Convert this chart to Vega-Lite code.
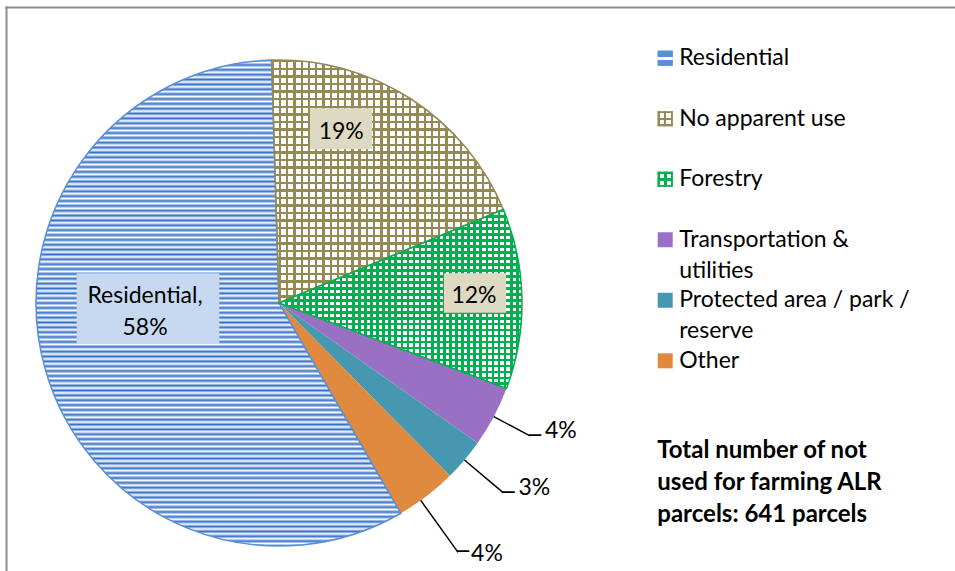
{
"$schema":"https://vega.github.io/schema/vega-lite/v6.json",
"width":949,"height":564,
"autosize":{"type":"none"},
"padding":{"left":6,"top":7,"right":0,"bottom":0},
"background":"white",
"config":{"view":{"stroke":null},"font":"Lato"},
"data":{"values":[
{"cat":"Residential","ord":1,"n":371,"label":"Residential,\n58%"},
{"cat":"No apparent use","ord":2,"n":123,"label":"19%"},
{"cat":"Forestry","ord":3,"n":77,"label":"12%"},
{"cat":"Transportation &\nutilities","ord":4,"n":26,"label":"4%"},
{"cat":"Protected area / park /\nreserve","ord":5,"n":18,"label":"3%"},
{"cat":"Other","ord":6,"n":26,"label":"4%"}
]},
"layer":[
{
"encoding":{
"x":{"datum":0,"type":"quantitative","scale":{"domain":[-1.12346,2.78189],"nice":false,"zero":false},"axis":{"orient":"top","domainColor":"#8c8c8c","domainWidth":2,"domainCap":"square","ticks":false,"labels":false,"grid":false,"title":null}},
"y":{"datum":0,"type":"quantitative","scale":{"domain":[-1.10288,1.21811],"nice":false,"zero":false},"axis":{"orient":"left","domainColor":"#8c8c8c","domainWidth":2,"domainCap":"square","ticks":false,"labels":false,"grid":false,"title":null}},
"theta":{"field":"n","type":"quantitative","stack":true,"scale":{"range":[2.61625,8.89944],"nice":false,"zero":true}},
"order":{"field":"ord","type":"quantitative"}
},
"layer":[
{"mark":{"type":"arc","outerRadius":243},
"encoding":{"color":{"field":"cat","type":"nominal","sort":{"field":"ord","op":"min"},"scale":{"range":["#5b8ed5","#948a54","#00b050","#9a70c4","#4698b0","#df8a3f"]},"legend":null}}},
{"mark":{"type":"arc","outerRadius":243},
"encoding":{"fill":{"condition":[
{"test":"datum.ord === 1","value":{"gradient":"linear","x1":0,"y1":0,"x2":0,"y2":1,"stops":[
{"offset":0,"color":"#3570c9"},{"offset":0.005,"color":"#fff"},{"offset":0.01,"color":"#3570c9"},{"offset":0.015,"color":"#fff"},{"offset":0.02,"color":"#3570c9"},{"offset":0.025,"color":"#fff"},{"offset":0.03,"color":"#3570c9"},{"offset":0.035,"color":"#fff"},{"offset":0.04,"color":"#3570c9"},{"offset":0.045,"color":"#fff"},{"offset":0.05,"color":"#3570c9"},{"offset":0.055,"color":"#fff"},{"offset":0.06,"color":"#3570c9"},{"offset":0.065,"color":"#fff"},{"offset":0.07,"color":"#3570c9"},{"offset":0.075,"color":"#fff"},{"offset":0.08,"color":"#3570c9"},{"offset":0.085,"color":"#fff"},{"offset":0.09,"color":"#3570c9"},{"offset":0.095,"color":"#fff"},
{"offset":0.1,"color":"#3570c9"},{"offset":0.105,"color":"#fff"},{"offset":0.11,"color":"#3570c9"},{"offset":0.115,"color":"#fff"},{"offset":0.12,"color":"#3570c9"},{"offset":0.125,"color":"#fff"},{"offset":0.13,"color":"#3570c9"},{"offset":0.135,"color":"#fff"},{"offset":0.14,"color":"#3570c9"},{"offset":0.145,"color":"#fff"},{"offset":0.15,"color":"#3570c9"},{"offset":0.155,"color":"#fff"},{"offset":0.16,"color":"#3570c9"},{"offset":0.165,"color":"#fff"},{"offset":0.17,"color":"#3570c9"},{"offset":0.175,"color":"#fff"},{"offset":0.18,"color":"#3570c9"},{"offset":0.185,"color":"#fff"},{"offset":0.19,"color":"#3570c9"},{"offset":0.195,"color":"#fff"},
{"offset":0.2,"color":"#3570c9"},{"offset":0.205,"color":"#fff"},{"offset":0.21,"color":"#3570c9"},{"offset":0.215,"color":"#fff"},{"offset":0.22,"color":"#3570c9"},{"offset":0.225,"color":"#fff"},{"offset":0.23,"color":"#3570c9"},{"offset":0.235,"color":"#fff"},{"offset":0.24,"color":"#3570c9"},{"offset":0.245,"color":"#fff"},{"offset":0.25,"color":"#3570c9"},{"offset":0.255,"color":"#fff"},{"offset":0.26,"color":"#3570c9"},{"offset":0.265,"color":"#fff"},{"offset":0.27,"color":"#3570c9"},{"offset":0.275,"color":"#fff"},{"offset":0.28,"color":"#3570c9"},{"offset":0.285,"color":"#fff"},{"offset":0.29,"color":"#3570c9"},{"offset":0.295,"color":"#fff"},
{"offset":0.3,"color":"#3570c9"},{"offset":0.305,"color":"#fff"},{"offset":0.31,"color":"#3570c9"},{"offset":0.315,"color":"#fff"},{"offset":0.32,"color":"#3570c9"},{"offset":0.325,"color":"#fff"},{"offset":0.33,"color":"#3570c9"},{"offset":0.335,"color":"#fff"},{"offset":0.34,"color":"#3570c9"},{"offset":0.345,"color":"#fff"},{"offset":0.35,"color":"#3570c9"},{"offset":0.355,"color":"#fff"},{"offset":0.36,"color":"#3570c9"},{"offset":0.365,"color":"#fff"},{"offset":0.37,"color":"#3570c9"},{"offset":0.375,"color":"#fff"},{"offset":0.38,"color":"#3570c9"},{"offset":0.385,"color":"#fff"},{"offset":0.39,"color":"#3570c9"},{"offset":0.395,"color":"#fff"},
{"offset":0.4,"color":"#3570c9"},{"offset":0.405,"color":"#fff"},{"offset":0.41,"color":"#3570c9"},{"offset":0.415,"color":"#fff"},{"offset":0.42,"color":"#3570c9"},{"offset":0.425,"color":"#fff"},{"offset":0.43,"color":"#3570c9"},{"offset":0.435,"color":"#fff"},{"offset":0.44,"color":"#3570c9"},{"offset":0.445,"color":"#fff"},{"offset":0.45,"color":"#3570c9"},{"offset":0.455,"color":"#fff"},{"offset":0.46,"color":"#3570c9"},{"offset":0.465,"color":"#fff"},{"offset":0.47,"color":"#3570c9"},{"offset":0.475,"color":"#fff"},{"offset":0.48,"color":"#3570c9"},{"offset":0.485,"color":"#fff"},{"offset":0.49,"color":"#3570c9"},{"offset":0.495,"color":"#fff"},
{"offset":0.5,"color":"#3570c9"},{"offset":0.505,"color":"#fff"},{"offset":0.51,"color":"#3570c9"},{"offset":0.515,"color":"#fff"},{"offset":0.52,"color":"#3570c9"},{"offset":0.525,"color":"#fff"},{"offset":0.53,"color":"#3570c9"},{"offset":0.535,"color":"#fff"},{"offset":0.54,"color":"#3570c9"},{"offset":0.545,"color":"#fff"},{"offset":0.55,"color":"#3570c9"},{"offset":0.555,"color":"#fff"},{"offset":0.56,"color":"#3570c9"},{"offset":0.565,"color":"#fff"},{"offset":0.57,"color":"#3570c9"},{"offset":0.575,"color":"#fff"},{"offset":0.58,"color":"#3570c9"},{"offset":0.585,"color":"#fff"},{"offset":0.59,"color":"#3570c9"},{"offset":0.595,"color":"#fff"},
{"offset":0.6,"color":"#3570c9"},{"offset":0.605,"color":"#fff"},{"offset":0.61,"color":"#3570c9"},{"offset":0.615,"color":"#fff"},{"offset":0.62,"color":"#3570c9"},{"offset":0.625,"color":"#fff"},{"offset":0.63,"color":"#3570c9"},{"offset":0.635,"color":"#fff"},{"offset":0.64,"color":"#3570c9"},{"offset":0.645,"color":"#fff"},{"offset":0.65,"color":"#3570c9"},{"offset":0.655,"color":"#fff"},{"offset":0.66,"color":"#3570c9"},{"offset":0.665,"color":"#fff"},{"offset":0.67,"color":"#3570c9"},{"offset":0.675,"color":"#fff"},{"offset":0.68,"color":"#3570c9"},{"offset":0.685,"color":"#fff"},{"offset":0.69,"color":"#3570c9"},{"offset":0.695,"color":"#fff"},
{"offset":0.7,"color":"#3570c9"},{"offset":0.705,"color":"#fff"},{"offset":0.71,"color":"#3570c9"},{"offset":0.715,"color":"#fff"},{"offset":0.72,"color":"#3570c9"},{"offset":0.725,"color":"#fff"},{"offset":0.73,"color":"#3570c9"},{"offset":0.735,"color":"#fff"},{"offset":0.74,"color":"#3570c9"},{"offset":0.745,"color":"#fff"},{"offset":0.75,"color":"#3570c9"},{"offset":0.755,"color":"#fff"},{"offset":0.76,"color":"#3570c9"},{"offset":0.765,"color":"#fff"},{"offset":0.77,"color":"#3570c9"},{"offset":0.775,"color":"#fff"},{"offset":0.78,"color":"#3570c9"},{"offset":0.785,"color":"#fff"},{"offset":0.79,"color":"#3570c9"},{"offset":0.795,"color":"#fff"},
{"offset":0.8,"color":"#3570c9"},{"offset":0.805,"color":"#fff"},{"offset":0.81,"color":"#3570c9"},{"offset":0.815,"color":"#fff"},{"offset":0.82,"color":"#3570c9"},{"offset":0.825,"color":"#fff"},{"offset":0.83,"color":"#3570c9"},{"offset":0.835,"color":"#fff"},{"offset":0.84,"color":"#3570c9"},{"offset":0.845,"color":"#fff"},{"offset":0.85,"color":"#3570c9"},{"offset":0.855,"color":"#fff"},{"offset":0.86,"color":"#3570c9"},{"offset":0.865,"color":"#fff"},{"offset":0.87,"color":"#3570c9"},{"offset":0.875,"color":"#fff"},{"offset":0.88,"color":"#3570c9"},{"offset":0.885,"color":"#fff"},{"offset":0.89,"color":"#3570c9"},{"offset":0.895,"color":"#fff"},
{"offset":0.9,"color":"#3570c9"},{"offset":0.905,"color":"#fff"},{"offset":0.91,"color":"#3570c9"},{"offset":0.915,"color":"#fff"},{"offset":0.92,"color":"#3570c9"},{"offset":0.925,"color":"#fff"},{"offset":0.93,"color":"#3570c9"},{"offset":0.935,"color":"#fff"},{"offset":0.94,"color":"#3570c9"},{"offset":0.945,"color":"#fff"},{"offset":0.95,"color":"#3570c9"},{"offset":0.955,"color":"#fff"},{"offset":0.96,"color":"#3570c9"},{"offset":0.965,"color":"#fff"},{"offset":0.97,"color":"#3570c9"},{"offset":0.975,"color":"#fff"},{"offset":0.98,"color":"#3570c9"},{"offset":0.985,"color":"#fff"},{"offset":0.99,"color":"#3570c9"},{"offset":0.995,"color":"#fff"},
{"offset":1,"color":"#3570c9"}]}},
{"test":"datum.ord === 2","value":{"gradient":"linear","x1":0,"y1":0,"x2":1,"y2":0,"stops":[
{"offset":0,"color":"#948a54"},{"offset":0.01,"color":"#948a54"},{"offset":0.01,"color":"#fff"},{"offset":0.03125,"color":"#fff"},
{"offset":0.03125,"color":"#948a54"},{"offset":0.04125,"color":"#948a54"},{"offset":0.04125,"color":"#fff"},{"offset":0.0625,"color":"#fff"},
{"offset":0.0625,"color":"#948a54"},{"offset":0.0725,"color":"#948a54"},{"offset":0.0725,"color":"#fff"},{"offset":0.09375,"color":"#fff"},
{"offset":0.09375,"color":"#948a54"},{"offset":0.10375,"color":"#948a54"},{"offset":0.10375,"color":"#fff"},{"offset":0.125,"color":"#fff"},
{"offset":0.125,"color":"#948a54"},{"offset":0.135,"color":"#948a54"},{"offset":0.135,"color":"#fff"},{"offset":0.15625,"color":"#fff"},
{"offset":0.15625,"color":"#948a54"},{"offset":0.16625,"color":"#948a54"},{"offset":0.16625,"color":"#fff"},{"offset":0.1875,"color":"#fff"},
{"offset":0.1875,"color":"#948a54"},{"offset":0.1975,"color":"#948a54"},{"offset":0.1975,"color":"#fff"},{"offset":0.21875,"color":"#fff"},
{"offset":0.21875,"color":"#948a54"},{"offset":0.22875,"color":"#948a54"},{"offset":0.22875,"color":"#fff"},{"offset":0.25,"color":"#fff"},
{"offset":0.25,"color":"#948a54"},{"offset":0.26,"color":"#948a54"},{"offset":0.26,"color":"#fff"},{"offset":0.28125,"color":"#fff"},
{"offset":0.28125,"color":"#948a54"},{"offset":0.29125,"color":"#948a54"},{"offset":0.29125,"color":"#fff"},{"offset":0.3125,"color":"#fff"},
{"offset":0.3125,"color":"#948a54"},{"offset":0.3225,"color":"#948a54"},{"offset":0.3225,"color":"#fff"},{"offset":0.34375,"color":"#fff"},
{"offset":0.34375,"color":"#948a54"},{"offset":0.35375,"color":"#948a54"},{"offset":0.35375,"color":"#fff"},{"offset":0.375,"color":"#fff"},
{"offset":0.375,"color":"#948a54"},{"offset":0.385,"color":"#948a54"},{"offset":0.385,"color":"#fff"},{"offset":0.40625,"color":"#fff"},
{"offset":0.40625,"color":"#948a54"},{"offset":0.41625,"color":"#948a54"},{"offset":0.41625,"color":"#fff"},{"offset":0.4375,"color":"#fff"},
{"offset":0.4375,"color":"#948a54"},{"offset":0.4475,"color":"#948a54"},{"offset":0.4475,"color":"#fff"},{"offset":0.46875,"color":"#fff"},
{"offset":0.46875,"color":"#948a54"},{"offset":0.47875,"color":"#948a54"},{"offset":0.47875,"color":"#fff"},{"offset":0.5,"color":"#fff"},
{"offset":0.5,"color":"#948a54"},{"offset":0.51,"color":"#948a54"},{"offset":0.51,"color":"#fff"},{"offset":0.53125,"color":"#fff"},
{"offset":0.53125,"color":"#948a54"},{"offset":0.54125,"color":"#948a54"},{"offset":0.54125,"color":"#fff"},{"offset":0.5625,"color":"#fff"},
{"offset":0.5625,"color":"#948a54"},{"offset":0.5725,"color":"#948a54"},{"offset":0.5725,"color":"#fff"},{"offset":0.59375,"color":"#fff"},
{"offset":0.59375,"color":"#948a54"},{"offset":0.60375,"color":"#948a54"},{"offset":0.60375,"color":"#fff"},{"offset":0.625,"color":"#fff"},
{"offset":0.625,"color":"#948a54"},{"offset":0.635,"color":"#948a54"},{"offset":0.635,"color":"#fff"},{"offset":0.65625,"color":"#fff"},
{"offset":0.65625,"color":"#948a54"},{"offset":0.66625,"color":"#948a54"},{"offset":0.66625,"color":"#fff"},{"offset":0.6875,"color":"#fff"},
{"offset":0.6875,"color":"#948a54"},{"offset":0.6975,"color":"#948a54"},{"offset":0.6975,"color":"#fff"},{"offset":0.71875,"color":"#fff"},
{"offset":0.71875,"color":"#948a54"},{"offset":0.72875,"color":"#948a54"},{"offset":0.72875,"color":"#fff"},{"offset":0.75,"color":"#fff"},
{"offset":0.75,"color":"#948a54"},{"offset":0.76,"color":"#948a54"},{"offset":0.76,"color":"#fff"},{"offset":0.78125,"color":"#fff"},
{"offset":0.78125,"color":"#948a54"},{"offset":0.79125,"color":"#948a54"},{"offset":0.79125,"color":"#fff"},{"offset":0.8125,"color":"#fff"},
{"offset":0.8125,"color":"#948a54"},{"offset":0.8225,"color":"#948a54"},{"offset":0.8225,"color":"#fff"},{"offset":0.84375,"color":"#fff"},
{"offset":0.84375,"color":"#948a54"},{"offset":0.85375,"color":"#948a54"},{"offset":0.85375,"color":"#fff"},{"offset":0.875,"color":"#fff"},
{"offset":0.875,"color":"#948a54"},{"offset":0.885,"color":"#948a54"},{"offset":0.885,"color":"#fff"},{"offset":0.90625,"color":"#fff"},
{"offset":0.90625,"color":"#948a54"},{"offset":0.91625,"color":"#948a54"},{"offset":0.91625,"color":"#fff"},{"offset":0.9375,"color":"#fff"},
{"offset":0.9375,"color":"#948a54"},{"offset":0.9475,"color":"#948a54"},{"offset":0.9475,"color":"#fff"},{"offset":0.96875,"color":"#fff"},
{"offset":0.96875,"color":"#948a54"},{"offset":0.97875,"color":"#948a54"},{"offset":0.97875,"color":"#fff"},{"offset":1,"color":"#fff"}]}},
{"test":"datum.ord === 3","value":{"gradient":"linear","x1":0,"y1":0,"x2":1,"y2":0,"stops":[
{"offset":0,"color":"#00b050"},{"offset":0.011,"color":"#00b050"},{"offset":0.011,"color":"#fff"},{"offset":0.025,"color":"#fff"},
{"offset":0.025,"color":"#00b050"},{"offset":0.036,"color":"#00b050"},{"offset":0.036,"color":"#fff"},{"offset":0.05,"color":"#fff"},
{"offset":0.05,"color":"#00b050"},{"offset":0.061,"color":"#00b050"},{"offset":0.061,"color":"#fff"},{"offset":0.075,"color":"#fff"},
{"offset":0.075,"color":"#00b050"},{"offset":0.086,"color":"#00b050"},{"offset":0.086,"color":"#fff"},{"offset":0.1,"color":"#fff"},
{"offset":0.1,"color":"#00b050"},{"offset":0.111,"color":"#00b050"},{"offset":0.111,"color":"#fff"},{"offset":0.125,"color":"#fff"},
{"offset":0.125,"color":"#00b050"},{"offset":0.136,"color":"#00b050"},{"offset":0.136,"color":"#fff"},{"offset":0.15,"color":"#fff"},
{"offset":0.15,"color":"#00b050"},{"offset":0.161,"color":"#00b050"},{"offset":0.161,"color":"#fff"},{"offset":0.175,"color":"#fff"},
{"offset":0.175,"color":"#00b050"},{"offset":0.186,"color":"#00b050"},{"offset":0.186,"color":"#fff"},{"offset":0.2,"color":"#fff"},
{"offset":0.2,"color":"#00b050"},{"offset":0.211,"color":"#00b050"},{"offset":0.211,"color":"#fff"},{"offset":0.225,"color":"#fff"},
{"offset":0.225,"color":"#00b050"},{"offset":0.236,"color":"#00b050"},{"offset":0.236,"color":"#fff"},{"offset":0.25,"color":"#fff"},
{"offset":0.25,"color":"#00b050"},{"offset":0.261,"color":"#00b050"},{"offset":0.261,"color":"#fff"},{"offset":0.275,"color":"#fff"},
{"offset":0.275,"color":"#00b050"},{"offset":0.286,"color":"#00b050"},{"offset":0.286,"color":"#fff"},{"offset":0.3,"color":"#fff"},
{"offset":0.3,"color":"#00b050"},{"offset":0.311,"color":"#00b050"},{"offset":0.311,"color":"#fff"},{"offset":0.325,"color":"#fff"},
{"offset":0.325,"color":"#00b050"},{"offset":0.336,"color":"#00b050"},{"offset":0.336,"color":"#fff"},{"offset":0.35,"color":"#fff"},
{"offset":0.35,"color":"#00b050"},{"offset":0.361,"color":"#00b050"},{"offset":0.361,"color":"#fff"},{"offset":0.375,"color":"#fff"},
{"offset":0.375,"color":"#00b050"},{"offset":0.386,"color":"#00b050"},{"offset":0.386,"color":"#fff"},{"offset":0.4,"color":"#fff"},
{"offset":0.4,"color":"#00b050"},{"offset":0.411,"color":"#00b050"},{"offset":0.411,"color":"#fff"},{"offset":0.425,"color":"#fff"},
{"offset":0.425,"color":"#00b050"},{"offset":0.436,"color":"#00b050"},{"offset":0.436,"color":"#fff"},{"offset":0.45,"color":"#fff"},
{"offset":0.45,"color":"#00b050"},{"offset":0.461,"color":"#00b050"},{"offset":0.461,"color":"#fff"},{"offset":0.475,"color":"#fff"},
{"offset":0.475,"color":"#00b050"},{"offset":0.486,"color":"#00b050"},{"offset":0.486,"color":"#fff"},{"offset":0.5,"color":"#fff"},
{"offset":0.5,"color":"#00b050"},{"offset":0.511,"color":"#00b050"},{"offset":0.511,"color":"#fff"},{"offset":0.525,"color":"#fff"},
{"offset":0.525,"color":"#00b050"},{"offset":0.536,"color":"#00b050"},{"offset":0.536,"color":"#fff"},{"offset":0.55,"color":"#fff"},
{"offset":0.55,"color":"#00b050"},{"offset":0.561,"color":"#00b050"},{"offset":0.561,"color":"#fff"},{"offset":0.575,"color":"#fff"},
{"offset":0.575,"color":"#00b050"},{"offset":0.586,"color":"#00b050"},{"offset":0.586,"color":"#fff"},{"offset":0.6,"color":"#fff"},
{"offset":0.6,"color":"#00b050"},{"offset":0.611,"color":"#00b050"},{"offset":0.611,"color":"#fff"},{"offset":0.625,"color":"#fff"},
{"offset":0.625,"color":"#00b050"},{"offset":0.636,"color":"#00b050"},{"offset":0.636,"color":"#fff"},{"offset":0.65,"color":"#fff"},
{"offset":0.65,"color":"#00b050"},{"offset":0.661,"color":"#00b050"},{"offset":0.661,"color":"#fff"},{"offset":0.675,"color":"#fff"},
{"offset":0.675,"color":"#00b050"},{"offset":0.686,"color":"#00b050"},{"offset":0.686,"color":"#fff"},{"offset":0.7,"color":"#fff"},
{"offset":0.7,"color":"#00b050"},{"offset":0.711,"color":"#00b050"},{"offset":0.711,"color":"#fff"},{"offset":0.725,"color":"#fff"},
{"offset":0.725,"color":"#00b050"},{"offset":0.736,"color":"#00b050"},{"offset":0.736,"color":"#fff"},{"offset":0.75,"color":"#fff"},
{"offset":0.75,"color":"#00b050"},{"offset":0.761,"color":"#00b050"},{"offset":0.761,"color":"#fff"},{"offset":0.775,"color":"#fff"},
{"offset":0.775,"color":"#00b050"},{"offset":0.786,"color":"#00b050"},{"offset":0.786,"color":"#fff"},{"offset":0.8,"color":"#fff"},
{"offset":0.8,"color":"#00b050"},{"offset":0.811,"color":"#00b050"},{"offset":0.811,"color":"#fff"},{"offset":0.825,"color":"#fff"},
{"offset":0.825,"color":"#00b050"},{"offset":0.836,"color":"#00b050"},{"offset":0.836,"color":"#fff"},{"offset":0.85,"color":"#fff"},
{"offset":0.85,"color":"#00b050"},{"offset":0.861,"color":"#00b050"},{"offset":0.861,"color":"#fff"},{"offset":0.875,"color":"#fff"},
{"offset":0.875,"color":"#00b050"},{"offset":0.886,"color":"#00b050"},{"offset":0.886,"color":"#fff"},{"offset":0.9,"color":"#fff"},
{"offset":0.9,"color":"#00b050"},{"offset":0.911,"color":"#00b050"},{"offset":0.911,"color":"#fff"},{"offset":0.925,"color":"#fff"},
{"offset":0.925,"color":"#00b050"},{"offset":0.936,"color":"#00b050"},{"offset":0.936,"color":"#fff"},{"offset":0.95,"color":"#fff"},
{"offset":0.95,"color":"#00b050"},{"offset":0.961,"color":"#00b050"},{"offset":0.961,"color":"#fff"},{"offset":0.975,"color":"#fff"},
{"offset":0.975,"color":"#00b050"},{"offset":0.986,"color":"#00b050"},{"offset":0.986,"color":"#fff"},{"offset":1,"color":"#fff"}]}}
],"value":null}}},
{"mark":{"type":"arc","outerRadius":243,"strokeWidth":1.5},
"encoding":{"fill":{"condition":[
{"test":"datum.ord === 2","value":{"gradient":"linear","x1":0,"y1":0,"x2":0,"y2":1,"stops":[
{"offset":0,"color":"#948a54"},{"offset":0.01,"color":"#948a54"},{"offset":0.01,"color":"rgba(255,255,255,0)"},{"offset":0.03125,"color":"rgba(255,255,255,0)"},
{"offset":0.03125,"color":"#948a54"},{"offset":0.04125,"color":"#948a54"},{"offset":0.04125,"color":"rgba(255,255,255,0)"},{"offset":0.0625,"color":"rgba(255,255,255,0)"},
{"offset":0.0625,"color":"#948a54"},{"offset":0.0725,"color":"#948a54"},{"offset":0.0725,"color":"rgba(255,255,255,0)"},{"offset":0.09375,"color":"rgba(255,255,255,0)"},
{"offset":0.09375,"color":"#948a54"},{"offset":0.10375,"color":"#948a54"},{"offset":0.10375,"color":"rgba(255,255,255,0)"},{"offset":0.125,"color":"rgba(255,255,255,0)"},
{"offset":0.125,"color":"#948a54"},{"offset":0.135,"color":"#948a54"},{"offset":0.135,"color":"rgba(255,255,255,0)"},{"offset":0.15625,"color":"rgba(255,255,255,0)"},
{"offset":0.15625,"color":"#948a54"},{"offset":0.16625,"color":"#948a54"},{"offset":0.16625,"color":"rgba(255,255,255,0)"},{"offset":0.1875,"color":"rgba(255,255,255,0)"},
{"offset":0.1875,"color":"#948a54"},{"offset":0.1975,"color":"#948a54"},{"offset":0.1975,"color":"rgba(255,255,255,0)"},{"offset":0.21875,"color":"rgba(255,255,255,0)"},
{"offset":0.21875,"color":"#948a54"},{"offset":0.22875,"color":"#948a54"},{"offset":0.22875,"color":"rgba(255,255,255,0)"},{"offset":0.25,"color":"rgba(255,255,255,0)"},
{"offset":0.25,"color":"#948a54"},{"offset":0.26,"color":"#948a54"},{"offset":0.26,"color":"rgba(255,255,255,0)"},{"offset":0.28125,"color":"rgba(255,255,255,0)"},
{"offset":0.28125,"color":"#948a54"},{"offset":0.29125,"color":"#948a54"},{"offset":0.29125,"color":"rgba(255,255,255,0)"},{"offset":0.3125,"color":"rgba(255,255,255,0)"},
{"offset":0.3125,"color":"#948a54"},{"offset":0.3225,"color":"#948a54"},{"offset":0.3225,"color":"rgba(255,255,255,0)"},{"offset":0.34375,"color":"rgba(255,255,255,0)"},
{"offset":0.34375,"color":"#948a54"},{"offset":0.35375,"color":"#948a54"},{"offset":0.35375,"color":"rgba(255,255,255,0)"},{"offset":0.375,"color":"rgba(255,255,255,0)"},
{"offset":0.375,"color":"#948a54"},{"offset":0.385,"color":"#948a54"},{"offset":0.385,"color":"rgba(255,255,255,0)"},{"offset":0.40625,"color":"rgba(255,255,255,0)"},
{"offset":0.40625,"color":"#948a54"},{"offset":0.41625,"color":"#948a54"},{"offset":0.41625,"color":"rgba(255,255,255,0)"},{"offset":0.4375,"color":"rgba(255,255,255,0)"},
{"offset":0.4375,"color":"#948a54"},{"offset":0.4475,"color":"#948a54"},{"offset":0.4475,"color":"rgba(255,255,255,0)"},{"offset":0.46875,"color":"rgba(255,255,255,0)"},
{"offset":0.46875,"color":"#948a54"},{"offset":0.47875,"color":"#948a54"},{"offset":0.47875,"color":"rgba(255,255,255,0)"},{"offset":0.5,"color":"rgba(255,255,255,0)"},
{"offset":0.5,"color":"#948a54"},{"offset":0.51,"color":"#948a54"},{"offset":0.51,"color":"rgba(255,255,255,0)"},{"offset":0.53125,"color":"rgba(255,255,255,0)"},
{"offset":0.53125,"color":"#948a54"},{"offset":0.54125,"color":"#948a54"},{"offset":0.54125,"color":"rgba(255,255,255,0)"},{"offset":0.5625,"color":"rgba(255,255,255,0)"},
{"offset":0.5625,"color":"#948a54"},{"offset":0.5725,"color":"#948a54"},{"offset":0.5725,"color":"rgba(255,255,255,0)"},{"offset":0.59375,"color":"rgba(255,255,255,0)"},
{"offset":0.59375,"color":"#948a54"},{"offset":0.60375,"color":"#948a54"},{"offset":0.60375,"color":"rgba(255,255,255,0)"},{"offset":0.625,"color":"rgba(255,255,255,0)"},
{"offset":0.625,"color":"#948a54"},{"offset":0.635,"color":"#948a54"},{"offset":0.635,"color":"rgba(255,255,255,0)"},{"offset":0.65625,"color":"rgba(255,255,255,0)"},
{"offset":0.65625,"color":"#948a54"},{"offset":0.66625,"color":"#948a54"},{"offset":0.66625,"color":"rgba(255,255,255,0)"},{"offset":0.6875,"color":"rgba(255,255,255,0)"},
{"offset":0.6875,"color":"#948a54"},{"offset":0.6975,"color":"#948a54"},{"offset":0.6975,"color":"rgba(255,255,255,0)"},{"offset":0.71875,"color":"rgba(255,255,255,0)"},
{"offset":0.71875,"color":"#948a54"},{"offset":0.72875,"color":"#948a54"},{"offset":0.72875,"color":"rgba(255,255,255,0)"},{"offset":0.75,"color":"rgba(255,255,255,0)"},
{"offset":0.75,"color":"#948a54"},{"offset":0.76,"color":"#948a54"},{"offset":0.76,"color":"rgba(255,255,255,0)"},{"offset":0.78125,"color":"rgba(255,255,255,0)"},
{"offset":0.78125,"color":"#948a54"},{"offset":0.79125,"color":"#948a54"},{"offset":0.79125,"color":"rgba(255,255,255,0)"},{"offset":0.8125,"color":"rgba(255,255,255,0)"},
{"offset":0.8125,"color":"#948a54"},{"offset":0.8225,"color":"#948a54"},{"offset":0.8225,"color":"rgba(255,255,255,0)"},{"offset":0.84375,"color":"rgba(255,255,255,0)"},
{"offset":0.84375,"color":"#948a54"},{"offset":0.85375,"color":"#948a54"},{"offset":0.85375,"color":"rgba(255,255,255,0)"},{"offset":0.875,"color":"rgba(255,255,255,0)"},
{"offset":0.875,"color":"#948a54"},{"offset":0.885,"color":"#948a54"},{"offset":0.885,"color":"rgba(255,255,255,0)"},{"offset":0.90625,"color":"rgba(255,255,255,0)"},
{"offset":0.90625,"color":"#948a54"},{"offset":0.91625,"color":"#948a54"},{"offset":0.91625,"color":"rgba(255,255,255,0)"},{"offset":0.9375,"color":"rgba(255,255,255,0)"},
{"offset":0.9375,"color":"#948a54"},{"offset":0.9475,"color":"#948a54"},{"offset":0.9475,"color":"rgba(255,255,255,0)"},{"offset":0.96875,"color":"rgba(255,255,255,0)"},
{"offset":0.96875,"color":"#948a54"},{"offset":0.97875,"color":"#948a54"},{"offset":0.97875,"color":"rgba(255,255,255,0)"},{"offset":1,"color":"rgba(255,255,255,0)"}]}},
{"test":"datum.ord === 3","value":{"gradient":"linear","x1":0,"y1":0,"x2":0,"y2":1,"stops":[
{"offset":0,"color":"#00b050"},{"offset":0.015,"color":"#00b050"},{"offset":0.015,"color":"rgba(255,255,255,0)"},{"offset":0.0333,"color":"rgba(255,255,255,0)"},
{"offset":0.0333,"color":"#00b050"},{"offset":0.0483,"color":"#00b050"},{"offset":0.0483,"color":"rgba(255,255,255,0)"},{"offset":0.0667,"color":"rgba(255,255,255,0)"},
{"offset":0.0667,"color":"#00b050"},{"offset":0.0817,"color":"#00b050"},{"offset":0.0817,"color":"rgba(255,255,255,0)"},{"offset":0.1,"color":"rgba(255,255,255,0)"},
{"offset":0.1,"color":"#00b050"},{"offset":0.115,"color":"#00b050"},{"offset":0.115,"color":"rgba(255,255,255,0)"},{"offset":0.1333,"color":"rgba(255,255,255,0)"},
{"offset":0.1333,"color":"#00b050"},{"offset":0.1483,"color":"#00b050"},{"offset":0.1483,"color":"rgba(255,255,255,0)"},{"offset":0.1667,"color":"rgba(255,255,255,0)"},
{"offset":0.1667,"color":"#00b050"},{"offset":0.1817,"color":"#00b050"},{"offset":0.1817,"color":"rgba(255,255,255,0)"},{"offset":0.2,"color":"rgba(255,255,255,0)"},
{"offset":0.2,"color":"#00b050"},{"offset":0.215,"color":"#00b050"},{"offset":0.215,"color":"rgba(255,255,255,0)"},{"offset":0.2333,"color":"rgba(255,255,255,0)"},
{"offset":0.2333,"color":"#00b050"},{"offset":0.2483,"color":"#00b050"},{"offset":0.2483,"color":"rgba(255,255,255,0)"},{"offset":0.2667,"color":"rgba(255,255,255,0)"},
{"offset":0.2667,"color":"#00b050"},{"offset":0.2817,"color":"#00b050"},{"offset":0.2817,"color":"rgba(255,255,255,0)"},{"offset":0.3,"color":"rgba(255,255,255,0)"},
{"offset":0.3,"color":"#00b050"},{"offset":0.315,"color":"#00b050"},{"offset":0.315,"color":"rgba(255,255,255,0)"},{"offset":0.3333,"color":"rgba(255,255,255,0)"},
{"offset":0.3333,"color":"#00b050"},{"offset":0.3483,"color":"#00b050"},{"offset":0.3483,"color":"rgba(255,255,255,0)"},{"offset":0.3667,"color":"rgba(255,255,255,0)"},
{"offset":0.3667,"color":"#00b050"},{"offset":0.3817,"color":"#00b050"},{"offset":0.3817,"color":"rgba(255,255,255,0)"},{"offset":0.4,"color":"rgba(255,255,255,0)"},
{"offset":0.4,"color":"#00b050"},{"offset":0.415,"color":"#00b050"},{"offset":0.415,"color":"rgba(255,255,255,0)"},{"offset":0.4333,"color":"rgba(255,255,255,0)"},
{"offset":0.4333,"color":"#00b050"},{"offset":0.4483,"color":"#00b050"},{"offset":0.4483,"color":"rgba(255,255,255,0)"},{"offset":0.4667,"color":"rgba(255,255,255,0)"},
{"offset":0.4667,"color":"#00b050"},{"offset":0.4817,"color":"#00b050"},{"offset":0.4817,"color":"rgba(255,255,255,0)"},{"offset":0.5,"color":"rgba(255,255,255,0)"},
{"offset":0.5,"color":"#00b050"},{"offset":0.515,"color":"#00b050"},{"offset":0.515,"color":"rgba(255,255,255,0)"},{"offset":0.5333,"color":"rgba(255,255,255,0)"},
{"offset":0.5333,"color":"#00b050"},{"offset":0.5483,"color":"#00b050"},{"offset":0.5483,"color":"rgba(255,255,255,0)"},{"offset":0.5667,"color":"rgba(255,255,255,0)"},
{"offset":0.5667,"color":"#00b050"},{"offset":0.5817,"color":"#00b050"},{"offset":0.5817,"color":"rgba(255,255,255,0)"},{"offset":0.6,"color":"rgba(255,255,255,0)"},
{"offset":0.6,"color":"#00b050"},{"offset":0.615,"color":"#00b050"},{"offset":0.615,"color":"rgba(255,255,255,0)"},{"offset":0.6333,"color":"rgba(255,255,255,0)"},
{"offset":0.6333,"color":"#00b050"},{"offset":0.6483,"color":"#00b050"},{"offset":0.6483,"color":"rgba(255,255,255,0)"},{"offset":0.6667,"color":"rgba(255,255,255,0)"},
{"offset":0.6667,"color":"#00b050"},{"offset":0.6817,"color":"#00b050"},{"offset":0.6817,"color":"rgba(255,255,255,0)"},{"offset":0.7,"color":"rgba(255,255,255,0)"},
{"offset":0.7,"color":"#00b050"},{"offset":0.715,"color":"#00b050"},{"offset":0.715,"color":"rgba(255,255,255,0)"},{"offset":0.7333,"color":"rgba(255,255,255,0)"},
{"offset":0.7333,"color":"#00b050"},{"offset":0.7483,"color":"#00b050"},{"offset":0.7483,"color":"rgba(255,255,255,0)"},{"offset":0.7667,"color":"rgba(255,255,255,0)"},
{"offset":0.7667,"color":"#00b050"},{"offset":0.7817,"color":"#00b050"},{"offset":0.7817,"color":"rgba(255,255,255,0)"},{"offset":0.8,"color":"rgba(255,255,255,0)"},
{"offset":0.8,"color":"#00b050"},{"offset":0.815,"color":"#00b050"},{"offset":0.815,"color":"rgba(255,255,255,0)"},{"offset":0.8333,"color":"rgba(255,255,255,0)"},
{"offset":0.8333,"color":"#00b050"},{"offset":0.8483,"color":"#00b050"},{"offset":0.8483,"color":"rgba(255,255,255,0)"},{"offset":0.8667,"color":"rgba(255,255,255,0)"},
{"offset":0.8667,"color":"#00b050"},{"offset":0.8817,"color":"#00b050"},{"offset":0.8817,"color":"rgba(255,255,255,0)"},{"offset":0.9,"color":"rgba(255,255,255,0)"},
{"offset":0.9,"color":"#00b050"},{"offset":0.915,"color":"#00b050"},{"offset":0.915,"color":"rgba(255,255,255,0)"},{"offset":0.9333,"color":"rgba(255,255,255,0)"},
{"offset":0.9333,"color":"#00b050"},{"offset":0.9483,"color":"#00b050"},{"offset":0.9483,"color":"rgba(255,255,255,0)"},{"offset":0.9667,"color":"rgba(255,255,255,0)"},
{"offset":0.9667,"color":"#00b050"},{"offset":0.9817,"color":"#00b050"},{"offset":0.9817,"color":"rgba(255,255,255,0)"},{"offset":1,"color":"rgba(255,255,255,0)"}]}}
],"value":null},
"stroke":{"condition":[{"test":"datum.ord === 1","value":"#5b8ed5"},{"test":"datum.ord === 2","value":"#948a54"},{"test":"datum.ord === 3","value":"#00b050"}],"value":null}}}
]
},
{"transform":[{"filter":"datum.ord === 2"}],
"mark":{"type":"rect","color":"#ddd9c3"},
"encoding":{
"x":{"datum":0.1276,"type":"quantitative","scale":{"domain":[-1.12346,2.78189],"nice":false,"zero":false},"axis":{"orient":"top","domainColor":"#8c8c8c","domainWidth":2,"domainCap":"square","ticks":false,"labels":false,"grid":false,"title":null}},
"x2":{"datum":0.3827},
"y":{"datum":0.8012,"type":"quantitative","scale":{"domain":[-1.10288,1.21811],"nice":false,"zero":false},"axis":null},
"y2":{"datum":0.6325}}},
{"transform":[{"filter":"datum.ord === 3"}],
"mark":{"type":"rect","color":"#ddd9c3"},
"encoding":{
"x":{"datum":0.679,"type":"quantitative","scale":{"domain":[-1.12346,2.78189],"nice":false,"zero":false},"axis":{"orient":"top","domainColor":"#8c8c8c","domainWidth":2,"domainCap":"square","ticks":false,"labels":false,"grid":false,"title":null}},
"x2":{"datum":0.9342},
"y":{"datum":0.1222,"type":"quantitative","scale":{"domain":[-1.10288,1.21811],"nice":false,"zero":false},"axis":null},
"y2":{"datum":-0.0399}}},
{"transform":[{"filter":"datum.ord === 1"}],
"mark":{"type":"rect","color":"#c6d9f1"},
"encoding":{
"x":{"datum":-0.8325,"type":"quantitative","scale":{"domain":[-1.12346,2.78189],"nice":false,"zero":false},"axis":{"orient":"top","domainColor":"#8c8c8c","domainWidth":2,"domainCap":"square","ticks":false,"labels":false,"grid":false,"title":null}},
"x2":{"datum":-0.2457},
"y":{"datum":0.1222,"type":"quantitative","scale":{"domain":[-1.10288,1.21811],"nice":false,"zero":false},"axis":null},
"y2":{"datum":-0.1687}}},
{
"encoding":{
"x":{"datum":0,"type":"quantitative","scale":{"domain":[-1.12346,2.78189],"nice":false,"zero":false},"axis":{"orient":"top","domainColor":"#8c8c8c","domainWidth":2,"domainCap":"square","ticks":false,"labels":false,"grid":false,"title":null}},
"y":{"datum":0,"type":"quantitative","scale":{"domain":[-1.10288,1.21811],"nice":false,"zero":false},"axis":null},
"theta":{"field":"n","type":"quantitative","stack":true,"scale":{"range":[2.61625,8.89944],"nice":false,"zero":true}},
"order":{"field":"ord","type":"quantitative"}
},
"layer":[
{"mark":{"type":"text","font":"Lato","fontSize":23,"align":"center","baseline":"middle","lineBreak":"\n","lineHeight":32,"color":"#000",
"radius":{"expr":"datum.ord === 1 ? 131 : datum.ord === 2 ? 185 : 196"},
"dx":{"expr":"datum.ord === 1 ? -8 : datum.ord === 2 ? -38 : -1"},
"dy":{"expr":"datum.ord === 1 ? -43 : datum.ord === 2 ? -15 : -3"}},
"encoding":{"text":{"condition":{"test":"datum.ord <= 3","field":"label"},"value":""}}},
{"mark":{"type":"arc","filled":false,"innerRadius":243,"outerRadius":{"expr":"datum.ord === 4 ? 284 : datum.ord === 5 ? 294 : 307"},"padAngle":3,"strokeWidth":1.5,
"thetaOffset":{"expr":"datum.ord === 6 ? 0.03 : 0"},"theta2Offset":{"expr":"datum.ord === 6 ? 0.03 : 0"}},
"encoding":{"stroke":{"condition":{"test":"datum.ord >= 4","value":"#000"},"value":null}}},
{"mark":{"type":"text","font":"DejaVu Sans","fontSize":20,"align":"left","baseline":"middle","color":"#000",
"radius":{"expr":"datum.ord === 4 ? 284 : datum.ord === 5 ? 294 : 307"},"dx":-1,
"thetaOffset":{"expr":"datum.ord === 6 ? 0.03 : 0"}},
"encoding":{"text":{"condition":{"test":"datum.ord >= 4","value":"─"},"value":""}}},
{"mark":{"type":"text","font":"Lato","fontSize":23,"align":"left","baseline":"alphabetic","color":"#000",
"radius":{"expr":"datum.ord === 4 ? 284 : datum.ord === 5 ? 294 : 307"},
"dx":{"expr":"datum.ord === 6 ? 13 : 15"},"dy":{"expr":"datum.ord === 6 ? 9 : 2"},
"thetaOffset":{"expr":"datum.ord === 6 ? 0.03 : 0"}},
"encoding":{"text":{"condition":{"test":"datum.ord >= 4","field":"label"},"value":""}}}
]
},
{
"encoding":{
"x":{"datum":1.5893,"type":"quantitative","scale":{"domain":[-1.12346,2.78189],"nice":false,"zero":false},"axis":{"orient":"top","domainColor":"#8c8c8c","domainWidth":2,"domainCap":"square","ticks":false,"labels":false,"grid":false,"title":null}},
"y":{"field":"cat","type":"nominal","sort":{"field":"ord","op":"min"},"scale":{"type":"point","range":[51.2,353.8],"padding":0},"axis":null}
},
"layer":[
{"mark":{"type":"point","shape":"square","filled":true,"size":225,"opacity":1,"strokeWidth":0},
"encoding":{"color":{"field":"cat","type":"nominal","sort":{"field":"ord","op":"min"},"legend":null}}},
{"mark":{"type":"point","shape":"square","filled":true,"size":225,"opacity":1,"strokeWidth":0},
"encoding":{"fill":{"condition":[
{"test":"datum.ord === 1","value":{"gradient":"linear","x1":0,"y1":0,"x2":0,"y2":1,"stops":[{"offset":0,"color":"#5b8ed5"},{"offset":0.4,"color":"#5b8ed5"},{"offset":0.4,"color":"#fff"},{"offset":0.6,"color":"#fff"},{"offset":0.6,"color":"#5b8ed5"},{"offset":1,"color":"#5b8ed5"}]}},
{"test":"datum.ord === 2","value":{"gradient":"linear","x1":0,"y1":0,"x2":1,"y2":0,"stops":[{"offset":0,"color":"#948a54"},{"offset":0.13,"color":"#948a54"},{"offset":0.13,"color":"#fff"},{"offset":0.44,"color":"#fff"},{"offset":0.44,"color":"#948a54"},{"offset":0.56,"color":"#948a54"},{"offset":0.56,"color":"#fff"},{"offset":0.87,"color":"#fff"},{"offset":0.87,"color":"#948a54"},{"offset":1,"color":"#948a54"}]}},
{"test":"datum.ord === 3","value":{"gradient":"linear","x1":0,"y1":0,"x2":1,"y2":0,"stops":[{"offset":0,"color":"#00b050"},{"offset":0.13,"color":"#00b050"},{"offset":0.13,"color":"#fff"},{"offset":0.4,"color":"#fff"},{"offset":0.4,"color":"#00b050"},{"offset":0.6,"color":"#00b050"},{"offset":0.6,"color":"#fff"},{"offset":0.87,"color":"#fff"},{"offset":0.87,"color":"#00b050"},{"offset":1,"color":"#00b050"}]}}
],"value":null}}},
{"mark":{"type":"point","shape":"square","filled":true,"size":225,"opacity":1,"strokeWidth":0},
"encoding":{"fill":{"condition":[
{"test":"datum.ord === 2","value":{"gradient":"linear","x1":0,"y1":0,"x2":0,"y2":1,"stops":[{"offset":0,"color":"#948a54"},{"offset":0.13,"color":"#948a54"},{"offset":0.13,"color":"rgba(255,255,255,0)"},{"offset":0.44,"color":"rgba(255,255,255,0)"},{"offset":0.44,"color":"#948a54"},{"offset":0.56,"color":"#948a54"},{"offset":0.56,"color":"rgba(255,255,255,0)"},{"offset":0.87,"color":"rgba(255,255,255,0)"},{"offset":0.87,"color":"#948a54"},{"offset":1,"color":"#948a54"}]}},
{"test":"datum.ord === 3","value":{"gradient":"linear","x1":0,"y1":0,"x2":0,"y2":1,"stops":[{"offset":0,"color":"#00b050"},{"offset":0.13,"color":"#00b050"},{"offset":0.13,"color":"rgba(255,255,255,0)"},{"offset":0.4,"color":"rgba(255,255,255,0)"},{"offset":0.4,"color":"#00b050"},{"offset":0.6,"color":"#00b050"},{"offset":0.6,"color":"rgba(255,255,255,0)"},{"offset":0.87,"color":"rgba(255,255,255,0)"},{"offset":0.87,"color":"#00b050"},{"offset":1,"color":"#00b050"}]}}
],"value":null}}},
{"mark":{"type":"text","font":"Lato","fontSize":23,"align":"left","baseline":"middle","dx":14,"lineBreak":"\n","lineHeight":31,"color":"#000"},
"encoding":{"text":{"field":"cat"}}}
]
},
{
"data":{"values":[{"note":"Total number of not\nused for farming ALR\nparcels: 641 parcels"}]},
"mark":{"type":"text","font":"Lato","fontSize":24,"fontWeight":"bold","align":"left","baseline":"alphabetic","lineBreak":"\n","lineHeight":31.7,"color":"#000"},
"encoding":{
"x":{"datum":1.5568,"type":"quantitative","scale":{"domain":[-1.12346,2.78189],"nice":false,"zero":false},"axis":{"orient":"top","domainColor":"#8c8c8c","domainWidth":2,"domainCap":"square","ticks":false,"labels":false,"grid":false,"title":null}},
"y":{"datum":-0.6391,"type":"quantitative","scale":{"domain":[-1.10288,1.21811],"nice":false,"zero":false},"axis":null},
"text":{"field":"note"}
}
}
],
"resolve":{"scale":{"y":"independent"}}
}
